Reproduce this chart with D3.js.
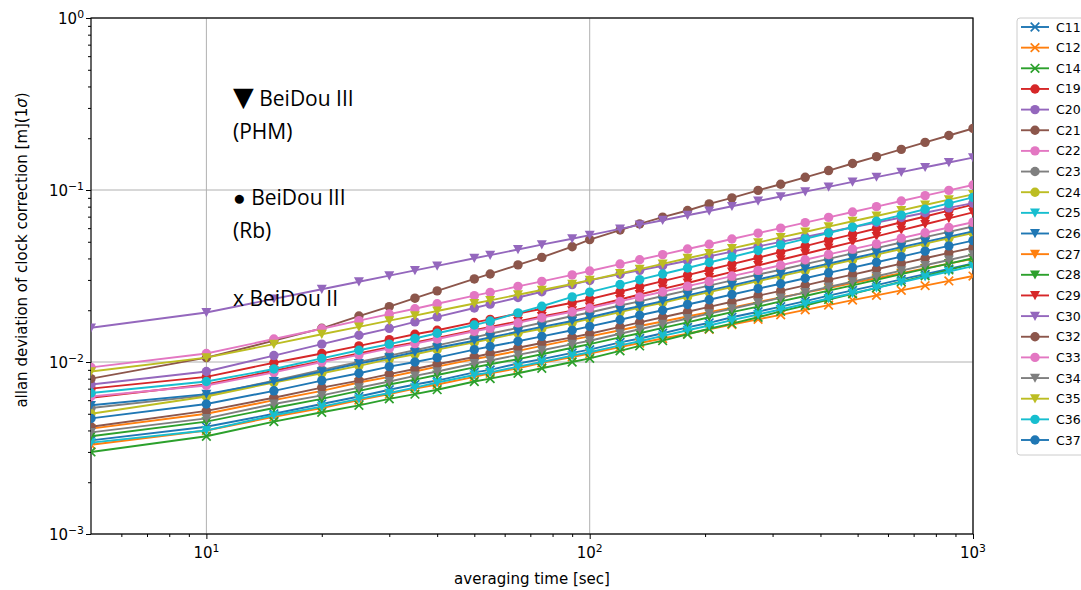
<!DOCTYPE html>
<html>
<head>
<meta charset="utf-8">
<script src="https://cdn.jsdelivr.net/npm/d3@7"></script>
<style>
  body { margin: 0; background: #fff; }
  svg { display: block; font-family: "DejaVu Sans", sans-serif; }
</style>
</head>
<body>
<div id="chart"></div>
<script>
const width = 1081;
const height = 590;
const margin = { top: 18, right: 108, bottom: 56, left: 91 };

// averaging times [sec]
const taus = [5, 10, 15, 20, 25, 30, 35, 40, 50, 55, 65, 75, 90, 100, 120, 135, 155, 180, 205, 235, 275, 315, 365, 420, 485, 560, 650, 750, 865, 1000];

const satNames = ["C11", "C12", "C14", "C19", "C20", "C21", "C22", "C23", "C24", "C25", "C26", "C27", "C28", "C29", "C30", "C32", "C33", "C34", "C35", "C36", "C37"];

// x = BeiDou II, o = BeiDou III (Rb), v = BeiDou III (PHM)
const satMarkers = ["x", "x", "x", "o", "o", "o", "o", "o", "o", "v", "v", "v", "v", "v", "v", "o", "o", "v", "v", "o", "o"];

// allan deviation [m], one value per tau
const c11 = [0.0035, 0.0042, 0.0050, 0.0057, 0.0063, 0.0069, 0.0074, 0.0078, 0.0087, 0.0090, 0.0098, 0.0104, 0.0113, 0.0118, 0.0130, 0.0137, 0.0147, 0.0159, 0.0169, 0.0182, 0.0196, 0.0210, 0.0226, 0.0243, 0.0261, 0.0280, 0.0302, 0.0324, 0.0348, 0.0374];
const c12 = [0.0033, 0.0040, 0.0048, 0.0054, 0.0060, 0.0065, 0.0070, 0.0074, 0.0082, 0.0086, 0.0092, 0.0099, 0.0107, 0.0112, 0.0122, 0.0129, 0.0137, 0.0146, 0.0155, 0.0165, 0.0177, 0.0188, 0.0201, 0.0214, 0.0229, 0.0244, 0.0261, 0.0278, 0.0296, 0.0316];
const c14 = [0.0030, 0.0037, 0.0045, 0.0051, 0.0056, 0.0061, 0.0065, 0.0069, 0.0077, 0.0080, 0.0086, 0.0092, 0.0100, 0.0105, 0.0116, 0.0124, 0.0133, 0.0145, 0.0156, 0.0167, 0.0182, 0.0197, 0.0213, 0.0231, 0.0249, 0.0270, 0.0293, 0.0317, 0.0343, 0.0372];
const c19 = [0.0070, 0.0082, 0.0099, 0.0112, 0.0124, 0.0135, 0.0145, 0.0153, 0.0170, 0.0177, 0.0191, 0.0204, 0.0221, 0.0232, 0.0256, 0.0274, 0.0295, 0.0320, 0.0344, 0.0371, 0.0404, 0.0436, 0.0472, 0.0511, 0.0552, 0.0597, 0.0649, 0.0701, 0.0759, 0.0822];
const c20 = [0.0074, 0.0088, 0.0109, 0.0127, 0.0143, 0.0157, 0.0171, 0.0183, 0.0206, 0.0217, 0.0237, 0.0256, 0.0282, 0.0298, 0.0324, 0.0341, 0.0363, 0.0388, 0.0411, 0.0438, 0.0470, 0.0499, 0.0533, 0.0568, 0.0607, 0.0647, 0.0692, 0.0738, 0.0787, 0.0839];
const c21 = [0.0080, 0.0106, 0.0133, 0.0157, 0.0185, 0.0210, 0.0235, 0.0259, 0.0304, 0.0325, 0.0367, 0.0406, 0.0468, 0.0515, 0.0585, 0.0635, 0.0695, 0.0760, 0.0830, 0.0900, 0.0995, 0.1080, 0.1185, 0.1297, 0.1426, 0.1563, 0.1722, 0.1892, 0.2075, 0.2280];
const c22 = [0.0093, 0.0112, 0.0136, 0.0156, 0.0174, 0.0190, 0.0204, 0.0218, 0.0243, 0.0254, 0.0275, 0.0294, 0.0321, 0.0338, 0.0371, 0.0393, 0.0421, 0.0454, 0.0484, 0.0519, 0.0561, 0.0600, 0.0646, 0.0693, 0.0745, 0.0800, 0.0863, 0.0927, 0.0995, 0.1069];
const c23 = [0.0054, 0.0064, 0.0078, 0.0090, 0.0100, 0.0109, 0.0117, 0.0125, 0.0139, 0.0146, 0.0158, 0.0169, 0.0185, 0.0194, 0.0213, 0.0225, 0.0242, 0.0261, 0.0278, 0.0298, 0.0322, 0.0344, 0.0371, 0.0398, 0.0428, 0.0459, 0.0495, 0.0532, 0.0571, 0.0614];
const c24 = [0.0050, 0.0063, 0.0076, 0.0086, 0.0095, 0.0104, 0.0111, 0.0118, 0.0130, 0.0136, 0.0147, 0.0156, 0.0169, 0.0178, 0.0195, 0.0207, 0.0221, 0.0239, 0.0255, 0.0273, 0.0295, 0.0316, 0.0340, 0.0365, 0.0392, 0.0421, 0.0454, 0.0488, 0.0524, 0.0562];
const c25 = [0.0034, 0.0040, 0.0049, 0.0055, 0.0061, 0.0066, 0.0071, 0.0076, 0.0084, 0.0087, 0.0094, 0.0100, 0.0109, 0.0114, 0.0125, 0.0132, 0.0142, 0.0153, 0.0163, 0.0175, 0.0189, 0.0202, 0.0218, 0.0234, 0.0251, 0.0270, 0.0291, 0.0313, 0.0336, 0.0361];
const c26 = [0.0056, 0.0065, 0.0077, 0.0088, 0.0098, 0.0106, 0.0114, 0.0121, 0.0133, 0.0139, 0.0150, 0.0160, 0.0173, 0.0182, 0.0200, 0.0211, 0.0226, 0.0244, 0.0261, 0.0279, 0.0302, 0.0323, 0.0348, 0.0373, 0.0401, 0.0431, 0.0465, 0.0499, 0.0536, 0.0575];
const c27 = [0.0041, 0.0050, 0.0060, 0.0068, 0.0076, 0.0082, 0.0088, 0.0094, 0.0104, 0.0108, 0.0116, 0.0124, 0.0135, 0.0141, 0.0153, 0.0162, 0.0172, 0.0184, 0.0195, 0.0207, 0.0223, 0.0237, 0.0253, 0.0269, 0.0288, 0.0307, 0.0328, 0.0350, 0.0373, 0.0398];
const c28 = [0.0037, 0.0045, 0.0054, 0.0061, 0.0068, 0.0074, 0.0079, 0.0084, 0.0093, 0.0097, 0.0104, 0.0111, 0.0121, 0.0127, 0.0139, 0.0147, 0.0158, 0.0170, 0.0182, 0.0195, 0.0210, 0.0225, 0.0242, 0.0260, 0.0279, 0.0300, 0.0324, 0.0348, 0.0373, 0.0401];
const c29 = [0.0062, 0.0074, 0.0089, 0.0101, 0.0112, 0.0122, 0.0130, 0.0138, 0.0153, 0.0160, 0.0172, 0.0184, 0.0199, 0.0209, 0.0231, 0.0247, 0.0266, 0.0288, 0.0310, 0.0334, 0.0364, 0.0393, 0.0426, 0.0460, 0.0498, 0.0538, 0.0585, 0.0632, 0.0684, 0.0741];
const c30 = [0.0158, 0.0194, 0.0233, 0.0265, 0.0293, 0.0318, 0.0341, 0.0362, 0.0401, 0.0418, 0.0451, 0.0481, 0.0521, 0.0547, 0.0594, 0.0627, 0.0667, 0.0713, 0.0755, 0.0804, 0.0863, 0.0916, 0.0979, 0.1042, 0.1114, 0.1189, 0.1271, 0.1355, 0.1445, 0.1542];
const c32 = [0.0042, 0.0052, 0.0062, 0.0071, 0.0078, 0.0085, 0.0091, 0.0097, 0.0107, 0.0112, 0.0121, 0.0129, 0.0139, 0.0146, 0.0160, 0.0170, 0.0182, 0.0196, 0.0209, 0.0224, 0.0243, 0.0259, 0.0279, 0.0300, 0.0322, 0.0346, 0.0373, 0.0401, 0.0431, 0.0462];
const c33 = [0.0063, 0.0073, 0.0087, 0.0100, 0.0110, 0.0120, 0.0128, 0.0136, 0.0151, 0.0157, 0.0169, 0.0181, 0.0196, 0.0206, 0.0225, 0.0239, 0.0256, 0.0276, 0.0294, 0.0316, 0.0341, 0.0365, 0.0393, 0.0422, 0.0453, 0.0486, 0.0525, 0.0564, 0.0605, 0.0650];
const c34 = [0.0039, 0.0047, 0.0057, 0.0064, 0.0071, 0.0077, 0.0083, 0.0088, 0.0098, 0.0102, 0.0110, 0.0117, 0.0127, 0.0133, 0.0146, 0.0155, 0.0166, 0.0179, 0.0191, 0.0204, 0.0221, 0.0236, 0.0254, 0.0273, 0.0293, 0.0315, 0.0340, 0.0365, 0.0392, 0.0421];
const c35 = [0.0088, 0.0106, 0.0127, 0.0145, 0.0160, 0.0174, 0.0186, 0.0198, 0.0219, 0.0228, 0.0246, 0.0262, 0.0284, 0.0299, 0.0327, 0.0347, 0.0372, 0.0401, 0.0428, 0.0458, 0.0495, 0.0530, 0.0570, 0.0612, 0.0658, 0.0706, 0.0762, 0.0818, 0.0879, 0.0944];
const c36 = [0.0066, 0.0077, 0.0091, 0.0105, 0.0117, 0.0127, 0.0137, 0.0147, 0.0164, 0.0173, 0.0193, 0.0211, 0.0239, 0.0255, 0.0282, 0.0301, 0.0325, 0.0352, 0.0379, 0.0408, 0.0445, 0.0480, 0.0520, 0.0562, 0.0608, 0.0658, 0.0714, 0.0773, 0.0836, 0.0906];
const c37 = [0.0047, 0.0057, 0.0068, 0.0078, 0.0086, 0.0094, 0.0100, 0.0106, 0.0118, 0.0123, 0.0132, 0.0141, 0.0153, 0.0161, 0.0176, 0.0187, 0.0200, 0.0216, 0.0230, 0.0247, 0.0267, 0.0285, 0.0307, 0.0330, 0.0354, 0.0380, 0.0410, 0.0441, 0.0473, 0.0508];

const satValues = [c11, c12, c14, c19, c20, c21, c22, c23, c24, c25, c26, c27, c28, c29, c30, c32, c33, c34, c35, c36, c37];

const yMajor = [1e-3, 1e-2, 1e-1, 1];
const xMajor = [10, 100, 1000];

const series = satNames.map((name, i) => ({
  name,
  marker: satMarkers[i],
  color: d3.schemeCategory10[i % 10],
  points: taus.map((t, j) => ({ t, v: satValues[i][j] }))
}));

const svg = d3.select("#chart")
  .append("svg")
  .attr("width", width)
  .attr("height", height);

svg.append("rect").attr("width", width).attr("height", height).attr("fill", "#fff");

const x = d3.scaleLog()
  .domain([5, 1000])
  .range([margin.left, width - margin.right]);

const y = d3.scaleLog()
  .domain([1e-3, 1])
  .range([height - margin.bottom, margin.top]);

svg.append("clipPath")
  .attr("id", "plot-clip")
  .append("rect")
  .attr("x", margin.left)
  .attr("y", margin.top)
  .attr("width", width - margin.left - margin.right)
  .attr("height", height - margin.top - margin.bottom);

// grid
const grid = svg.append("g").attr("stroke", "#b0b0b0").attr("stroke-width", 1);
grid.selectAll("line.gx")
  .data(xMajor)
  .join("line")
  .attr("x1", d => x(d)).attr("x2", d => x(d))
  .attr("y1", margin.top).attr("y2", height - margin.bottom);
grid.selectAll("line.gy")
  .data(yMajor)
  .join("line")
  .attr("y1", d => y(d)).attr("y2", d => y(d))
  .attr("x1", margin.left).attr("x2", width - margin.right);

// minor tick values
const xMinor = [];
[1, 10, 100].forEach(p => d3.range(2, 10).forEach(m => { if (m * p > 5) xMinor.push(m * p); }));
const yMinor = [];
[1e-3, 1e-2, 1e-1].forEach(p => d3.range(2, 10).forEach(m => yMinor.push(m * p)));

// axes
function styleAxis(g) {
  g.select(".domain").remove();
  g.selectAll(".tick line").attr("stroke", "#000").attr("stroke-width", 1);
}

svg.append("g")
  .attr("transform", `translate(0,${height - margin.bottom})`)
  .call(d3.axisBottom(x).tickValues(xMajor).tickSize(5).tickFormat(""))
  .call(styleAxis);
svg.append("g")
  .attr("transform", `translate(0,${height - margin.bottom})`)
  .call(d3.axisBottom(x).tickValues(xMinor).tickSize(3).tickFormat(""))
  .call(styleAxis);
svg.append("g")
  .attr("transform", `translate(${margin.left},0)`)
  .call(d3.axisLeft(y).tickValues(yMajor).tickSize(5).tickFormat(""))
  .call(styleAxis);
svg.append("g")
  .attr("transform", `translate(${margin.left},0)`)
  .call(d3.axisLeft(y).tickValues(yMinor).tickSize(3).tickFormat(""))
  .call(styleAxis);

function powerLabel(sel) {
  sel.each(function (d) {
    const e = Math.round(Math.log10(d));
    const t = d3.select(this);
    t.append("tspan").text("10");
    t.append("tspan")
      .attr("dy", "-0.6em")
      .attr("font-size", "0.72em")
      .text(e < 0 ? "\u2212" + (-e) : String(e));
  });
}

svg.append("g")
  .attr("font-size", 15)
  .selectAll("text")
  .data(yMajor)
  .join("text")
  .attr("x", margin.left - 7)
  .attr("y", d => y(d) + 6)
  .attr("text-anchor", "end")
  .call(powerLabel);

svg.append("g")
  .attr("font-size", 15)
  .selectAll("text")
  .data(xMajor)
  .join("text")
  .attr("x", d => x(d))
  .attr("y", height - margin.bottom + 24)
  .attr("text-anchor", "middle")
  .call(powerLabel);

// frame
svg.append("rect")
  .attr("x", margin.left)
  .attr("y", margin.top)
  .attr("width", width - margin.left - margin.right)
  .attr("height", height - margin.top - margin.bottom)
  .attr("fill", "none")
  .attr("stroke", "#000")
  .attr("stroke-width", 1.2);

// markers
function drawMarker(g, type, color) {
  if (type === "o") {
    g.append("circle").attr("r", 4.7).attr("fill", color);
  } else if (type === "v") {
    g.append("path").attr("d", "M-5,-4.4L5,-4.4L0,4.8Z").attr("fill", color);
  } else {
    g.append("path").attr("d", "M-4.3,-4.3L4.3,4.3M-4.3,4.3L4.3,-4.3")
      .attr("stroke", color).attr("stroke-width", 1.7).attr("fill", "none");
  }
}

const line = d3.line()
  .x(d => x(d.t))
  .y(d => y(d.v));

const plot = svg.append("g").attr("clip-path", "url(#plot-clip)");

series.forEach(s => {
  const g = plot.append("g");
  g.append("path")
    .datum(s.points)
    .attr("d", line)
    .attr("fill", "none")
    .attr("stroke", s.color)
    .attr("stroke-width", 1.9);
  g.selectAll("g.m")
    .data(s.points)
    .join("g")
    .attr("transform", d => `translate(${x(d.t)},${y(d.v)})`)
    .each(function () { drawMarker(d3.select(this), s.marker, s.color); });
});

// axis labels
svg.append("text")
  .attr("x", (margin.left + width - margin.right) / 2)
  .attr("y", 584)
  .attr("text-anchor", "middle")
  .attr("font-size", 15)
  .text("averaging time [sec]");

const yl = svg.append("text")
  .attr("transform", "translate(27,250) rotate(-90)")
  .attr("text-anchor", "middle")
  .attr("font-size", 15);
yl.append("tspan").text("allan deviation of clock correction [m](1");
yl.append("tspan").attr("font-style", "italic").text("\u03c3");
yl.append("tspan").text(")");

// annotations
const notes = svg.append("g")
  .attr("font-family", "'Open Sans', sans-serif")
  .attr("font-size", 21)
  .attr("fill", "#000");
const n1 = notes.append("text").attr("x", 233).attr("y", 106);
n1.append("tspan").attr("font-family", "'DejaVu Sans'").attr("font-size", 27).text("\u25bc");
n1.append("tspan").text(" BeiDou III");
notes.append("text").attr("x", 233).attr("y", 139).text("(PHM)");
notes.append("text").attr("x", 233).attr("y", 205).text("\u25cf BeiDou III");
notes.append("text").attr("x", 233).attr("y", 238).text("(Rb)");
notes.append("text").attr("x", 233).attr("y", 306).text("x BeiDou II");

// legend
const legend = svg.append("g").attr("transform", "translate(1017,18)");
legend.append("rect")
  .attr("width", 90)
  .attr("height", 437)
  .attr("rx", 3)
  .attr("fill", "#fff")
  .attr("stroke", "#cccccc");

const rowH = 20.65;
const items = legend.selectAll("g.item")
  .data(series)
  .join("g")
  .attr("transform", (d, i) => `translate(0,${9 + i * rowH})`);
items.append("line")
  .attr("x1", 4).attr("x2", 32)
  .attr("stroke", d => d.color)
  .attr("stroke-width", 1.9);
items.append("g")
  .attr("transform", "translate(18,0)")
  .each(function (d) { drawMarker(d3.select(this), d.marker, d.color); });
items.append("text")
  .attr("x", 39)
  .attr("y", 4.5)
  .attr("font-size", 12.5)
  .text(d => d.name);
</script>
</body>
</html>
